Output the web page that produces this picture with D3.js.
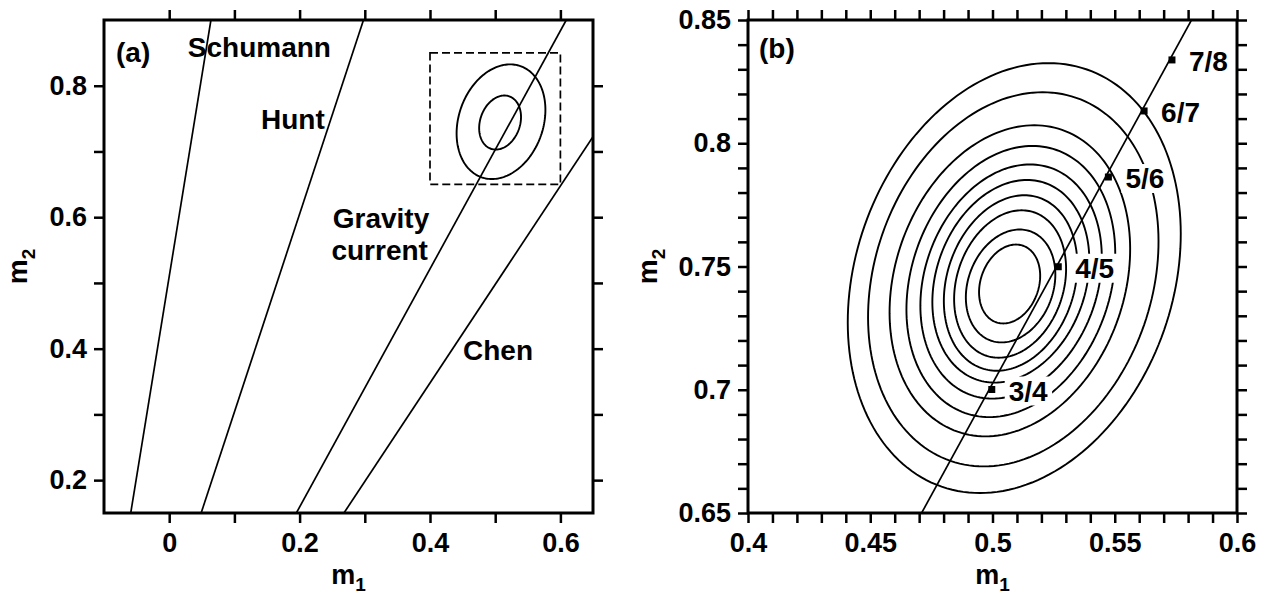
<!DOCTYPE html>
<html>
<head>
<meta charset="utf-8">
<script src="https://cdn.jsdelivr.net/npm/d3@7"></script>
<style>
  body { margin: 0; background: #fff; }
  svg text { font-family: "Liberation Sans", Arial, Helvetica, sans-serif; font-weight: bold; fill: #000; }
</style>
</head>
<body>
<svg id="chart" width="1267" height="595"></svg>
<script>
const width = 1267, height = 595;

// panel (a): model lines, start point at bottom edge, end point where they leave the frame
const modelNames = ['Schumann', 'Hunt', 'Gravity current', 'Chen'];
const modelStart = [[-0.059, 0.15], [0.049, 0.15], [0.195, 0.15], [0.268, 0.15]];
const modelEnd = [[0.064, 0.9], [0.298, 0.9], [0.609, 0.9], [0.65, 0.7225]];

// annotation text in panel (a), anchored at the left of the baseline (m1, m2)
const noteText = ['Schumann', 'Hunt', 'Gravity', 'current', 'Chen'];
const notePos = [[0.0285, 0.8437], [0.1408, 0.7342], [0.2508, 0.5836], [0.2488, 0.5349], [0.4506, 0.3827]];

// zoom box drawn in panel (a)
const zoomBox = [0.4, 0.6, 0.65, 0.85];

// misfit contours, outermost first: centre, half width, half height, x shift of the top point
const contourCx = [0.5089, 0.5085, 0.5071, 0.5075, 0.5076, 0.5075, 0.5074, 0.5072, 0.5074, 0.5070];
const contourCy = [0.7453, 0.7448, 0.7442, 0.7439, 0.7439, 0.7440, 0.7433, 0.7429, 0.7421, 0.7429];
const contourHalfW = [0.0681, 0.0594, 0.0492, 0.0427, 0.0371, 0.0321, 0.0273, 0.0229, 0.0183, 0.0125];
const contourHalfH = [0.0872, 0.0759, 0.0631, 0.0550, 0.0475, 0.0411, 0.0356, 0.0299, 0.0229, 0.0160];
const contourTopShift = [0.014, 0.012, 0.010, 0.0088, 0.0077, 0.0066, 0.0056, 0.0047, 0.0037, 0.0026];
const contoursInA = [0, 5];

// ratio points on the gravity current line in panel (b)
const ratioLabels = ['3/4', '4/5', '5/6', '6/7', '7/8'];
const ratioM1 = [0.4997, 0.5269, 0.5474, 0.5620, 0.5734];
const ratioM2 = [0.7001, 0.7499, 0.7863, 0.8131, 0.8338];

// ticks
const xTicksA = [0, 0.1, 0.2, 0.3, 0.4, 0.5, 0.6];
const xLabelsA = [0, 0.2, 0.4, 0.6];
const yTicksA = [0.2, 0.3, 0.4, 0.5, 0.6, 0.7, 0.8];
const yLabelsA = [0.2, 0.4, 0.6, 0.8];
const xTicksB = d3.range(40, 61).map(d => d / 100);
const xLabelsB = [0.4, 0.45, 0.5, 0.55, 0.6];
const yTicksB = d3.range(65, 86).map(d => d / 100);
const yLabelsB = [0.65, 0.7, 0.75, 0.8, 0.85];

const svg = d3.select('#chart');
const panelA = { left: 104, right: 593, top: 20, bottom: 513 };
const panelB = { left: 748, right: 1237, top: 20, bottom: 513 };

const xA = d3.scaleLinear().domain([-0.1, 0.65]).range([panelA.left, panelA.right]);
const yA = d3.scaleLinear().domain([0.15, 0.9]).range([panelA.bottom, panelA.top]);
const xB = d3.scaleLinear().domain([0.4, 0.6]).range([panelB.left, panelB.right]);
const yB = d3.scaleLinear().domain([0.65, 0.85]).range([panelB.bottom, panelB.top]);

const angles = d3.range(0, 2 * Math.PI, Math.PI / 90);
function contourPoints(i) {
  const s = contourTopShift[i];
  const w = Math.sqrt(contourHalfW[i] ** 2 - s ** 2);
  return angles.map(t => [contourCx[i] + w * Math.cos(t) + s * Math.sin(t), contourCy[i] + contourHalfH[i] * Math.sin(t)]);
}

function clipFor(id, p) {
  svg.append('clipPath').attr('id', id)
    .append('rect')
    .attr('x', p.left).attr('y', p.top)
    .attr('width', p.right - p.left).attr('height', p.bottom - p.top);
  return svg.append('g').attr('clip-path', `url(#${id})`);
}

function drawAxes(x, y, p, xTicks, xLabels, yTicks, yLabels) {
  const fmt = labels => d => labels.includes(d) ? String(d) : '';
  const axes = [
    [d3.axisBottom(x).tickValues(xTicks).tickFormat(fmt(xLabels)).tickPadding(10), `translate(0,${p.bottom})`],
    [d3.axisTop(x).tickValues(xTicks).tickFormat(''), `translate(0,${p.top})`],
    [d3.axisLeft(y).tickValues(yTicks).tickFormat(fmt(yLabels)).tickPadding(7), `translate(${p.left},0)`],
    [d3.axisRight(y).tickValues(yTicks).tickFormat(''), `translate(${p.right},0)`]
  ];
  axes.forEach(([axis, tr]) => {
    const g = svg.append('g').attr('transform', tr).call(axis.tickSize(10).tickSizeOuter(0));
    g.select('.domain').remove();
    g.selectAll('line').attr('stroke', '#000').attr('stroke-width', 2.5);
    g.selectAll('text').attr('font-size', 27);
  });
  svg.append('rect')
    .attr('x', p.left).attr('y', p.top)
    .attr('width', p.right - p.left).attr('height', p.bottom - p.top)
    .attr('fill', 'none').attr('stroke', '#000').attr('stroke-width', 3);
}

function axisTitles(p, yTitleX) {
  const cx = (p.left + p.right) / 2;
  const t1 = svg.append('text').attr('x', cx).attr('y', 584).attr('text-anchor', 'middle').attr('font-size', 27);
  t1.append('tspan').text('m');
  t1.append('tspan').attr('font-size', 19).attr('dy', 7).text('1');
  const cy = (p.top + p.bottom) / 2;
  const t2 = svg.append('text').attr('transform', `translate(${yTitleX},${cy}) rotate(-90)`)
    .attr('text-anchor', 'middle').attr('font-size', 28);
  t2.append('tspan').text('m');
  t2.append('tspan').attr('font-size', 19).attr('dy', 8).text('2');
}

// ---------- panel (a)
const gA = clipFor('clipA', panelA);
gA.selectAll('line.model')
  .data(modelNames)
  .join('line')
  .attr('class', 'model')
  .attr('x1', (d, i) => xA(modelStart[i][0])).attr('y1', (d, i) => yA(modelStart[i][1]))
  .attr('x2', (d, i) => xA(modelEnd[i][0])).attr('y2', (d, i) => yA(modelEnd[i][1]))
  .attr('stroke', '#000').attr('stroke-width', 1.7);

const ellA = d3.line().x(d => xA(d[0])).y(d => yA(d[1])).curve(d3.curveLinearClosed);
gA.selectAll('path.contour')
  .data(contoursInA)
  .join('path')
  .attr('class', 'contour')
  .attr('d', i => ellA(contourPoints(i)))
  .attr('fill', 'none').attr('stroke', '#000').attr('stroke-width', 1.9);

gA.append('rect')
  .attr('x', xA(zoomBox[0])).attr('y', yA(zoomBox[3]))
  .attr('width', xA(zoomBox[1]) - xA(zoomBox[0]))
  .attr('height', yA(zoomBox[2]) - yA(zoomBox[3]))
  .attr('fill', 'none').attr('stroke', '#000').attr('stroke-width', 1.7)
  .attr('stroke-dasharray', '8,4');

svg.selectAll('text.note')
  .data(noteText)
  .join('text')
  .attr('class', 'note')
  .attr('x', (d, i) => xA(notePos[i][0]))
  .attr('y', (d, i) => yA(notePos[i][1]))
  .attr('font-size', 28)
  .text(d => d);

svg.append('text').attr('x', 116).attr('y', 62).attr('font-size', 28).text('(a)');

drawAxes(xA, yA, panelA, xTicksA, xLabelsA, yTicksA, yLabelsA);
axisTitles(panelA, 27);

// ---------- panel (b)
const gB = clipFor('clipB', panelB);
const ellB = d3.line().x(d => xB(d[0])).y(d => yB(d[1])).curve(d3.curveLinearClosed);
gB.selectAll('path.contour')
  .data(d3.range(contourCx.length))
  .join('path')
  .attr('class', 'contour')
  .attr('d', i => ellB(contourPoints(i)))
  .attr('fill', 'none').attr('stroke', '#000').attr('stroke-width', 1.9);

const bgLayer = gB.append('g');
gB.append('line')
  .attr('x1', xB(modelStart[2][0])).attr('y1', yB(modelStart[2][1]))
  .attr('x2', xB(modelEnd[2][0])).attr('y2', yB(modelEnd[2][1]))
  .attr('stroke', '#000').attr('stroke-width', 1.7);

gB.selectAll('rect.marker')
  .data(ratioLabels)
  .join('rect')
  .attr('class', 'marker')
  .attr('x', (d, i) => xB(ratioM1[i]) - 3.5)
  .attr('y', (d, i) => yB(ratioM2[i]) - 3.5)
  .attr('width', 7).attr('height', 7)
  .attr('fill', '#000');

const ratioText = svg.selectAll('text.ratio')
  .data(ratioLabels)
  .join('text')
  .attr('class', 'ratio')
  .attr('x', (d, i) => xB(ratioM1[i]) + 17)
  .attr('y', (d, i) => yB(ratioM2[i]) + 11)
  .attr('font-size', 28)
  .text(d => d);

ratioText.each(function () {
  const b = this.getBBox();
  bgLayer.append('rect')
    .attr('x', b.x - 4).attr('y', b.y + 1)
    .attr('width', b.width + 8).attr('height', b.height - 2)
    .attr('fill', '#fff');
});

svg.append('text').attr('x', 759).attr('y', 58).attr('font-size', 28).text('(b)');

drawAxes(xB, yB, panelB, xTicksB, xLabelsB, yTicksB, yLabelsB);
axisTitles(panelB, 657);
</script>
</body>
</html>
